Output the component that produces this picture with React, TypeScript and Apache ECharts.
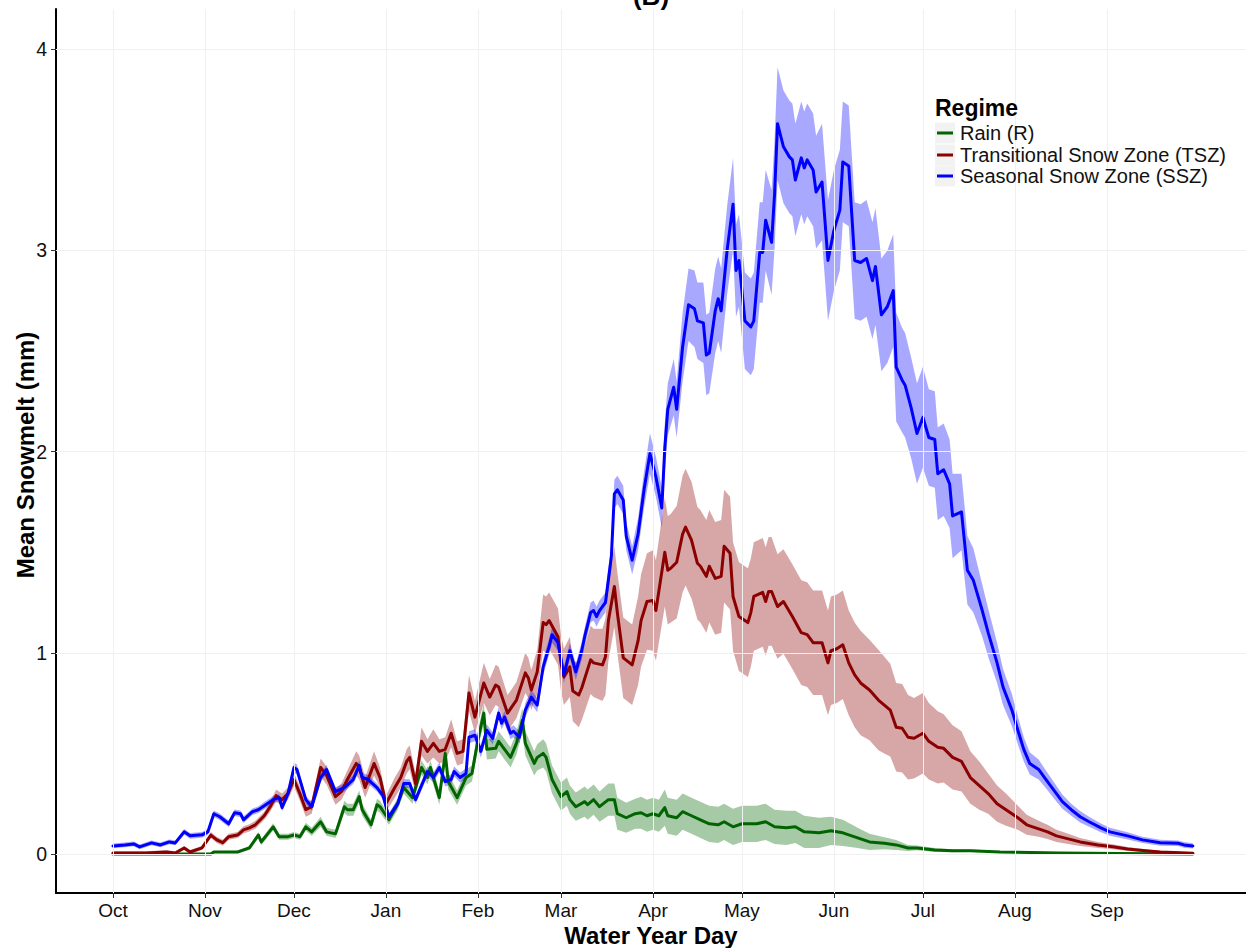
import { useEffect, useRef } from "react";
import * as echarts from "echarts";

// [water-year day, mean snowmelt (mm), half-width of the shaded band (mm)]
type Pt = [number, number, number];

const MONTH_DAYS = [1, 32, 62, 93, 124, 152, 183, 213, 244, 274, 305, 336];
const MONTH_NAMES = ["Oct", "Nov", "Dec", "Jan", "Feb", "Mar", "Apr", "May", "Jun", "Jul", "Aug", "Sep"];
const Y_TICKS = [0, 1, 2, 3, 4];

const RAIN: Pt[] = [
  [1, 0, 0.004], [20, 0, 0.004], [34, 0, 0.004], [35, 0.01, 0.005], [43, 0.01, 0.006], [47, 0.03, 0.01],
  [50, 0.094, 0.015], [51, 0.06, 0.015], [55, 0.135, 0.018], [57, 0.086, 0.015], [60, 0.086, 0.015],
  [62, 0.094, 0.015], [64, 0.086, 0.015], [66, 0.135, 0.02], [68, 0.11, 0.02], [71, 0.16, 0.025],
  [73, 0.11, 0.02], [76, 0.1, 0.02], [79, 0.235, 0.03], [80, 0.22, 0.03], [82, 0.22, 0.03], [84, 0.285, 0.03],
  [85, 0.22, 0.03], [88, 0.145, 0.025], [90, 0.245, 0.03], [91, 0.235, 0.03], [94, 0.17, 0.025],
  [97, 0.25, 0.03], [99, 0.33, 0.03], [102, 0.28, 0.03], [105, 0.43, 0.035], [107, 0.38, 0.035],
  [108, 0.43, 0.035], [111, 0.28, 0.035], [113, 0.5, 0.04], [114, 0.36, 0.04], [117, 0.28, 0.035],
  [120, 0.38, 0.04], [122, 0.4, 0.04], [124, 0.565, 0.045], [126, 0.7, 0.05], [127, 0.52, 0.05],
  [130, 0.525, 0.05], [131, 0.56, 0.05], [133, 0.52, 0.05], [135, 0.48, 0.05], [137, 0.55, 0.055],
  [139, 0.665, 0.06], [140, 0.55, 0.06], [143, 0.45, 0.06], [144, 0.48, 0.065], [146, 0.5, 0.07],
  [147, 0.48, 0.07], [149, 0.37, 0.07], [152, 0.285, 0.07], [154, 0.31, 0.07], [155, 0.27, 0.07],
  [157, 0.235, 0.07], [160, 0.26, 0.075], [161, 0.245, 0.075], [163, 0.27, 0.075], [165, 0.235, 0.075],
  [168, 0.27, 0.08], [170, 0.27, 0.08], [171, 0.2, 0.08], [174, 0.18, 0.075], [177, 0.2, 0.075],
  [179, 0.205, 0.08], [181, 0.19, 0.08], [183, 0.2, 0.08], [185, 0.19, 0.08], [187, 0.23, 0.09],
  [188, 0.19, 0.09], [191, 0.18, 0.09], [193, 0.21, 0.09], [196, 0.19, 0.09], [199, 0.17, 0.09],
  [202, 0.15, 0.09], [205, 0.145, 0.09], [207, 0.16, 0.09], [210, 0.135, 0.09], [213, 0.15, 0.09],
  [216, 0.15, 0.09], [218, 0.15, 0.09], [221, 0.16, 0.09], [224, 0.135, 0.085], [228, 0.13, 0.085],
  [231, 0.135, 0.08], [234, 0.11, 0.08], [239, 0.105, 0.075], [243, 0.115, 0.07], [247, 0.105, 0.065],
  [252, 0.08, 0.05], [256, 0.06, 0.04], [261, 0.053, 0.03], [265, 0.045, 0.025], [269, 0.03, 0.015],
  [272, 0.03, 0.012], [278, 0.02, 0.01], [284, 0.016, 0.008], [290, 0.016, 0.006], [300, 0.01, 0.005],
  [320, 0.005, 0.004], [340, 0.002, 0.003], [365, 0, 0.003],
];

const TSZ: Pt[] = [
  [1, 0.005, 0.008], [12, 0.005, 0.008], [19, 0.01, 0.008], [22, 0.005, 0.008], [25, 0.03, 0.01],
  [27, 0.01, 0.01], [31, 0.03, 0.01], [34, 0.094, 0.015], [36, 0.07, 0.015], [38, 0.056, 0.015],
  [40, 0.086, 0.015], [43, 0.094, 0.015], [45, 0.12, 0.018], [47, 0.13, 0.018], [49, 0.145, 0.02],
  [52, 0.19, 0.02], [54, 0.235, 0.025], [56, 0.29, 0.03], [58, 0.27, 0.03], [60, 0.3, 0.03],
  [62, 0.37, 0.035], [64, 0.3, 0.035], [66, 0.22, 0.035], [68, 0.235, 0.035], [71, 0.43, 0.045],
  [73, 0.39, 0.045], [76, 0.285, 0.04], [78, 0.31, 0.04], [80, 0.37, 0.045], [83, 0.45, 0.06],
  [84, 0.43, 0.06], [86, 0.33, 0.05], [89, 0.45, 0.06], [91, 0.38, 0.05], [93, 0.25, 0.04],
  [96, 0.33, 0.05], [98, 0.38, 0.05], [100, 0.46, 0.06], [101, 0.48, 0.06], [103, 0.35, 0.05],
  [105, 0.56, 0.07], [107, 0.51, 0.06], [109, 0.55, 0.07], [111, 0.51, 0.06], [113, 0.52, 0.06],
  [115, 0.6, 0.07], [117, 0.5, 0.06], [119, 0.51, 0.06], [121, 0.8, 0.09], [123, 0.68, 0.08],
  [126, 0.85, 0.1], [128, 0.78, 0.09], [130, 0.84, 0.1], [131, 0.83, 0.1], [134, 0.7, 0.09],
  [137, 0.765, 0.09], [140, 0.9, 0.1], [141, 0.875, 0.1], [142, 0.815, 0.1], [144, 0.905, 0.11],
  [146, 1.15, 0.14], [147, 1.14, 0.14], [148, 1.16, 0.14], [151, 1.08, 0.14], [152, 0.95, 0.14],
  [153, 0.88, 0.14], [155, 0.93, 0.15], [156, 0.81, 0.15], [158, 0.79, 0.16], [159, 0.825, 0.16],
  [162, 0.965, 0.17], [163, 0.95, 0.17], [166, 0.94, 0.18], [167, 0.98, 0.19], [168, 1.16, 0.2],
  [170, 1.33, 0.2], [171, 1.2, 0.2], [173, 0.975, 0.2], [176, 0.94, 0.2], [178, 1.06, 0.22],
  [179, 1.16, 0.23], [181, 1.255, 0.24], [183, 1.26, 0.25], [184, 1.21, 0.25], [187, 1.5, 0.27],
  [188, 1.41, 0.27], [189, 1.42, 0.27], [191, 1.45, 0.28], [193, 1.59, 0.29], [194, 1.625, 0.29],
  [196, 1.56, 0.29], [198, 1.445, 0.28], [199, 1.43, 0.28], [201, 1.38, 0.28], [202, 1.43, 0.28],
  [204, 1.37, 0.28], [206, 1.38, 0.28], [207, 1.53, 0.28], [209, 1.495, 0.28], [210, 1.28, 0.27],
  [212, 1.18, 0.27], [215, 1.15, 0.27], [216, 1.2, 0.27], [217, 1.28, 0.27], [220, 1.3, 0.27],
  [221, 1.255, 0.27], [222, 1.305, 0.27], [223, 1.305, 0.27], [225, 1.23, 0.26], [227, 1.255, 0.26],
  [230, 1.18, 0.26], [233, 1.1, 0.26], [235, 1.09, 0.26], [237, 1.05, 0.26], [240, 1.05, 0.26],
  [242, 0.95, 0.26], [243, 1.01, 0.27], [245, 1.02, 0.27], [247, 1.04, 0.27], [249, 0.95, 0.26],
  [251, 0.89, 0.26], [253, 0.85, 0.26], [256, 0.815, 0.25], [259, 0.765, 0.25], [261, 0.74, 0.24],
  [263, 0.715, 0.23], [265, 0.63, 0.22], [267, 0.625, 0.22], [269, 0.58, 0.21], [271, 0.575, 0.2],
  [274, 0.6, 0.2], [276, 0.56, 0.19], [279, 0.53, 0.18], [281, 0.525, 0.17], [284, 0.48, 0.16],
  [287, 0.46, 0.15], [290, 0.38, 0.13], [293, 0.34, 0.12], [296, 0.3, 0.1], [299, 0.25, 0.09],
  [302, 0.22, 0.08], [306, 0.18, 0.06], [309, 0.145, 0.05], [313, 0.125, 0.04], [316, 0.11, 0.035],
  [319, 0.09, 0.03], [323, 0.075, 0.025], [327, 0.06, 0.02], [333, 0.045, 0.015], [338, 0.036, 0.012],
  [343, 0.025, 0.01], [349, 0.016, 0.008], [354, 0.01, 0.006], [365, 0.003, 0.005],
];

const SSZ: Pt[] = [
  [1, 0.04, 0.012], [5, 0.045, 0.012], [8, 0.05, 0.012], [10, 0.035, 0.012], [14, 0.055, 0.012],
  [17, 0.045, 0.012], [20, 0.06, 0.012], [22, 0.055, 0.012], [25, 0.11, 0.014], [27, 0.09, 0.014],
  [31, 0.095, 0.014], [33, 0.11, 0.014], [35, 0.2, 0.016], [37, 0.185, 0.016], [40, 0.15, 0.016],
  [42, 0.205, 0.016], [44, 0.2, 0.016], [45, 0.17, 0.016], [48, 0.21, 0.016], [50, 0.22, 0.016],
  [52, 0.24, 0.018], [55, 0.27, 0.018], [57, 0.28, 0.018], [58, 0.23, 0.018], [60, 0.3, 0.02],
  [62, 0.43, 0.025], [63, 0.42, 0.025], [66, 0.27, 0.02], [68, 0.235, 0.02], [71, 0.38, 0.022],
  [73, 0.42, 0.022], [76, 0.31, 0.02], [79, 0.33, 0.02], [82, 0.37, 0.022], [84, 0.44, 0.025],
  [85, 0.38, 0.022], [87, 0.37, 0.022], [90, 0.33, 0.02], [92, 0.29, 0.02], [94, 0.185, 0.02],
  [97, 0.25, 0.02], [99, 0.35, 0.022], [101, 0.35, 0.022], [103, 0.27, 0.022], [107, 0.41, 0.025],
  [109, 0.38, 0.025], [111, 0.43, 0.025], [113, 0.36, 0.025], [115, 0.37, 0.025], [116, 0.41, 0.025],
  [118, 0.38, 0.025], [120, 0.4, 0.025], [121, 0.58, 0.03], [123, 0.59, 0.03], [125, 0.51, 0.03],
  [127, 0.615, 0.03], [129, 0.575, 0.03], [131, 0.7, 0.03], [132, 0.65, 0.03], [133, 0.68, 0.03],
  [135, 0.6, 0.03], [136, 0.61, 0.03], [138, 0.58, 0.03], [140, 0.715, 0.035], [142, 0.78, 0.035],
  [144, 0.74, 0.035], [146, 0.93, 0.04], [148, 1.03, 0.04], [149, 1.09, 0.04], [151, 1.05, 0.04],
  [153, 0.89, 0.04], [155, 1.01, 0.04], [157, 0.905, 0.04], [159, 1.01, 0.045], [160, 1.08, 0.045],
  [162, 1.2, 0.05], [163, 1.21, 0.05], [164, 1.18, 0.05], [165, 1.21, 0.05], [167, 1.25, 0.05],
  [169, 1.48, 0.06], [170, 1.79, 0.07], [171, 1.81, 0.07], [173, 1.76, 0.07], [174, 1.58, 0.07],
  [176, 1.46, 0.07], [178, 1.59, 0.08], [180, 1.81, 0.09], [182, 1.99, 0.1], [184, 1.875, 0.1],
  [186, 1.72, 0.1], [187, 2.02, 0.12], [188, 2.21, 0.13], [190, 2.32, 0.14], [191, 2.21, 0.14],
  [193, 2.52, 0.17], [195, 2.73, 0.18], [197, 2.71, 0.19], [198, 2.65, 0.19], [200, 2.64, 0.2],
  [201, 2.48, 0.2], [202, 2.49, 0.2], [204, 2.7, 0.21], [205, 2.76, 0.21], [206, 2.7, 0.21],
  [208, 3.0, 0.22], [210, 3.23, 0.23], [211, 2.9, 0.23], [212, 2.95, 0.23], [214, 2.65, 0.24],
  [216, 2.62, 0.24], [217, 2.65, 0.24], [219, 2.99, 0.25], [220, 2.99, 0.25], [221, 3.15, 0.25],
  [223, 3.04, 0.26], [224, 3.28, 0.27], [225, 3.63, 0.28], [227, 3.515, 0.28], [229, 3.465, 0.28],
  [230, 3.45, 0.28], [231, 3.35, 0.28], [233, 3.46, 0.28], [234, 3.41, 0.28], [235, 3.45, 0.28],
  [237, 3.4, 0.28], [238, 3.29, 0.28], [240, 3.34, 0.29], [242, 2.95, 0.3], [244, 3.1, 0.3],
  [246, 3.2, 0.3], [247, 3.44, 0.3], [249, 3.42, 0.3], [251, 2.95, 0.29], [253, 2.94, 0.29],
  [255, 2.96, 0.29], [257, 2.85, 0.29], [258, 2.92, 0.29], [260, 2.68, 0.28], [262, 2.72, 0.28],
  [264, 2.8, 0.28], [265, 2.42, 0.27], [267, 2.355, 0.26], [268, 2.33, 0.26], [270, 2.22, 0.25],
  [272, 2.09, 0.25], [274, 2.17, 0.25], [276, 2.07, 0.24], [278, 2.06, 0.24], [279, 1.89, 0.23],
  [281, 1.91, 0.23], [283, 1.84, 0.22], [284, 1.68, 0.21], [287, 1.7, 0.19], [289, 1.41, 0.17],
  [291, 1.36, 0.16], [292, 1.31, 0.15], [294, 1.21, 0.13], [296, 1.1, 0.12], [299, 0.95, 0.1],
  [301, 0.83, 0.09], [304, 0.715, 0.08], [306, 0.615, 0.07], [308, 0.52, 0.06], [310, 0.45, 0.055],
  [313, 0.42, 0.05], [315, 0.38, 0.045], [318, 0.32, 0.04], [321, 0.26, 0.035], [324, 0.22, 0.03],
  [327, 0.185, 0.028], [330, 0.16, 0.025], [334, 0.13, 0.022], [337, 0.11, 0.02], [343, 0.09, 0.018],
  [348, 0.07, 0.016], [354, 0.056, 0.015], [360, 0.053, 0.014], [362, 0.045, 0.014], [365, 0.04, 0.013],
];

const REGIMES = [
  { name: "Rain (R)", color: "#006400", band: "rgba(0,100,0,0.35)", data: RAIN },
  { name: "Transitional Snow Zone (TSZ)", color: "#8B0000", band: "rgba(139,0,0,0.35)", data: TSZ },
  { name: "Seasonal Snow Zone (SSZ)", color: "#0000FF", band: "rgba(0,0,255,0.34)", data: SSZ },
];

const FONT = '"Liberation Sans", Arial, Helvetica, sans-serif';

function bandSeries(r: (typeof REGIMES)[number]) {
  const pts = r.data;
  return {
    type: "custom",
    name: r.name + " band",
    silent: true,
    z: 2,
    clip: true,
    data: pts.map((p) => [p[0], p[1] - p[2], p[1] + p[2]]),
    encode: { x: 0, y: [1, 2] },
    renderItem: (params: any, api: any) => {
      if (params.dataIndex !== 0) return null;
      const upper = pts.map((p) => api.coord([p[0], p[1] + p[2]]));
      const lower = pts.map((p) => api.coord([p[0], p[1] - p[2]])).reverse();
      return {
        type: "polygon",
        shape: { points: upper.concat(lower) },
        style: { fill: r.band, stroke: "none" },
      };
    },
  };
}

function lineSeries(r: (typeof REGIMES)[number]) {
  return {
    type: "line",
    name: r.name,
    silent: true,
    z: 3,
    showSymbol: false,
    symbol: "none",
    clip: true,
    data: r.data.map((p) => [p[0], p[1]]),
    lineStyle: { color: r.color, width: 3, join: "round", cap: "round" },
    itemStyle: { color: r.color },
  };
}

export default function App() {
  const ref = useRef<HTMLDivElement>(null);

  useEffect(() => {
    if (!ref.current) return;
    const chart = echarts.init(ref.current, undefined, { renderer: "svg" });

    const gridSeries = {
      type: "line",
      name: "grid",
      silent: true,
      z: 1,
      data: [],
      markLine: {
        silent: true,
        symbol: ["none", "none"],
        label: { show: false },
        animation: false,
        lineStyle: { color: "#F0F0F0", width: 1, type: "solid" },
        data: [
          ...MONTH_DAYS.map((d) => ({ xAxis: d })),
          ...Y_TICKS.map((v) => ({ yAxis: v })),
        ],
      },
    };

    const legendRowY = [133, 155, 176];

    chart.setOption({
      animation: false,
      backgroundColor: "#ffffff",
      textStyle: { fontFamily: FONT },
      grid: { left: 56, right: 0, top: 9, bottom: 55, containLabel: false },
      xAxis: {
        type: "value",
        min: -18.2,
        max: 382.9,
        axisLine: { show: true, onZero: false, lineStyle: { color: "#000", width: 2 } },
        axisTick: { show: true, customValues: MONTH_DAYS, length: 5, lineStyle: { color: "#333", width: 1 } },
        axisLabel: {
          customValues: MONTH_DAYS,
          formatter: (v: number) => MONTH_NAMES[MONTH_DAYS.indexOf(Math.round(v))] ?? "",
          fontSize: 19,
          color: "#111",
          margin: 8,
          fontFamily: FONT,
        },
        splitLine: { show: false },
      },
      yAxis: {
        type: "value",
        min: -0.194,
        max: 4.2,
        axisLine: { show: true, onZero: false, lineStyle: { color: "#000", width: 2 } },
        axisTick: { show: true, customValues: Y_TICKS, length: 5, lineStyle: { color: "#333", width: 1 } },
        axisLabel: {
          customValues: Y_TICKS,
          formatter: (v: number) => String(Math.round(v)),
          fontSize: 19.5,
          color: "#111",
          margin: 9,
          fontFamily: FONT,
        },
        splitLine: { show: false },
      },
      series: [
        gridSeries,
        ...REGIMES.map(bandSeries),
        ...REGIMES.map(lineSeries),
      ],
      graphic: [
        {
          type: "text",
          z: 100,
          x: 651,
          y: 9,
          style: { text: "(B)", font: `bold 26px ${FONT}`, fill: "#000", align: "center", verticalAlign: "bottom" },
        },
        {
          type: "text",
          z: 100,
          x: 651,
          y: 935,
          style: { text: "Water Year Day", font: `bold 24px ${FONT}`, fill: "#000", align: "center", verticalAlign: "middle" },
        },
        {
          type: "text",
          z: 100,
          x: 25,
          y: 455,
          rotation: Math.PI / 2,
          style: { text: "Mean Snowmelt (mm)", font: `bold 24px ${FONT}`, fill: "#000", align: "center", verticalAlign: "middle" },
        },
        {
          type: "text",
          z: 100,
          x: 935,
          y: 108,
          style: { text: "Regime", font: `bold 23px ${FONT}`, fill: "#000", align: "left", verticalAlign: "middle" },
        },
        ...REGIMES.map((r, i) => ({
          type: "group",
          z: 100,
          x: 935,
          y: legendRowY[i],
          children: [
            { type: "rect", z: 100, shape: { x: 0, y: -10.5, width: 20, height: 21 }, style: { fill: "#F2F2F2" } },
            { type: "line", z: 101, shape: { x1: 2, y1: 0, x2: 18, y2: 0 }, style: { stroke: r.color, lineWidth: 3 } },
            {
              type: "text",
              z: 101,
              x: 25,
              y: 0,
              style: { text: r.name, font: `20px ${FONT}`, fill: "#111", align: "left", verticalAlign: "middle" },
            },
          ],
        })),
      ],
    });

    return () => chart.dispose();
  }, []);

  return (
    <div
      ref={ref}
      style={{ position: "fixed", left: 0, top: 0, width: 1246, height: 948, background: "#fff" }}
    />
  );
}
